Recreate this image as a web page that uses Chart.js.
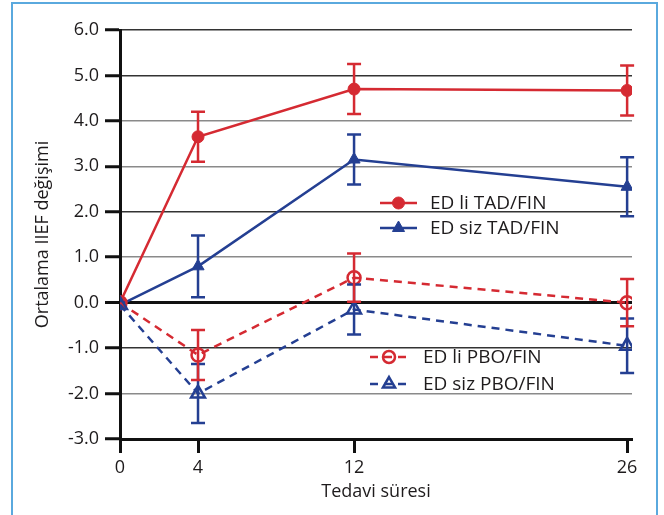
<!DOCTYPE html>
<html>
<head>
<meta charset="utf-8">
<script src="https://cdn.jsdelivr.net/npm/chart.js@4.4.1/dist/chart.umd.min.js"></script>
<style>
  html, body { margin: 0; padding: 0; background: #fff; }
  #wrap { position: relative; width: 664px; height: 515px; overflow: hidden; }
  #frame { position: absolute; left: 11px; top: 2px; width: 647px; height: 530px;
           border: 2px solid #5aa9de; box-sizing: border-box; pointer-events: none; }
  canvas { position: absolute; left: 0; top: 0; }
</style>
</head>
<body>
<div id="wrap">
  <canvas id="c" width="664" height="515"></canvas>
  <div id="frame"></div>
</div>
<script>
// weeks of treatment
const weeks = [0, 4, 12, 26];
const yTicks = [-3, -2, -1, 0, 1, 2, 3, 4, 5, 6];

// mean IIEF change and +/- error
const edLiTad   = [0.00, 3.65, 4.70, 4.67];
const edLiTadErr = [0, 0.55, 0.55, 0.55];
const edSizTad  = [-0.05, 0.80, 3.15, 2.55];
const edSizTadErr = [0, 0.68, 0.55, 0.65];
const edLiPbo   = [0.00, -1.15, 0.55, 0.00];
const edLiPboErr = [0, 0.55, 0.53, 0.52];
const edSizPbo  = [-0.05, -2.00, -0.15, -0.95];
const edSizPboErr = [0, 0.65, 0.55, 0.60];

const RED = '#d52a32';
const BLUE = '#243f92';
const INK = '#1e1b1c';
const FONT = '"Open Sans", "Noto Sans", sans-serif';
const FS = 18;

function pts(vals) { return vals.map((v, i) => ({ x: weeks[i], y: v })); }

// vertical error bars with caps
const errorBars = {
  id: 'errorBars',
  afterDatasetsDraw(chart) {
    const { ctx, scales: { x, y } } = chart;
    chart.data.datasets.forEach(ds => {
      if (!ds.err) return;
      ctx.save();
      ctx.strokeStyle = ds.borderColor;
      ctx.lineWidth = 2.5;
      ctx.setLineDash([]);
      ds.data.forEach((p, i) => {
        const e = ds.err[i];
        if (!e) return;
        const px = x.getPixelForValue(p.x);
        const top = y.getPixelForValue(p.y + e);
        const bot = y.getPixelForValue(p.y - e);
        ctx.beginPath();
        ctx.moveTo(px, top); ctx.lineTo(px, bot);
        ctx.moveTo(px - 7, top); ctx.lineTo(px + 7, top);
        ctx.moveTo(px - 7, bot); ctx.lineTo(px + 7, bot);
        ctx.stroke();
      });
      ctx.restore();
    });
  }
};

// legend boxes placed inside the plot
const innerLegend = {
  id: 'innerLegend',
  afterDraw(chart, args, opts) {
    const { ctx } = chart;
    opts.items.forEach(it => {
      const ds = chart.data.datasets[it.index];
      ctx.save();
      ctx.strokeStyle = ds.borderColor;
      ctx.lineWidth = 2.5;
      ctx.setLineDash(ds.borderDash || []);
      ctx.beginPath();
      ctx.moveTo(it.x, it.y);
      ctx.lineTo(it.x + it.len, it.y);
      ctx.stroke();
      ctx.setLineDash([]);
      ctx.fillStyle = ds.pointBackgroundColor;
      ctx.strokeStyle = ds.borderColor;
      ctx.lineWidth = ds.pointBorderWidth;
      Chart.helpers.drawPoint(ctx, { pointStyle: ds.pointStyle, radius: it.r, rotation: 0, borderWidth: ds.pointBorderWidth },
        it.x + it.len / 2, it.y);
      ctx.fillStyle = INK;
      ctx.font = '19px ' + FONT;
      ctx.textBaseline = 'middle';
      ctx.fillText(ds.label, it.tx, it.y + 1);
      ctx.restore();
    });
  }
};

const gridColor = ctx => {
  const v = ctx.tick && ctx.tick.value;
  if (v === 0 || v === -3) return '#111';
  if (v === 6 || v === 5 || v === 2 || v === -1) return '#333';
  return '#8a8a8a';
};

new Chart(document.getElementById('c'), {
  type: 'line',
  data: {
    datasets: [
      { label: 'ED siz PBO/FIN', data: pts(edSizPbo), err: edSizPboErr, borderColor: BLUE,
        borderDash: [8, 6], borderWidth: 2.5, pointStyle: 'triangle', pointRadius: 8,
        pointBackgroundColor: 'rgba(255,255,255,0)', pointBorderColor: BLUE, pointBorderWidth: 2.5 },
      { label: 'ED li PBO/FIN', data: pts(edLiPbo), err: edLiPboErr, borderColor: RED,
        borderDash: [8, 6], borderWidth: 2.5, pointStyle: 'circle', pointRadius: 6.5,
        pointBackgroundColor: 'rgba(255,255,255,0)', pointBorderColor: RED, pointBorderWidth: 2.5 },
      { label: 'ED siz TAD/FIN', data: pts(edSizTad), err: edSizTadErr, borderColor: BLUE,
        borderWidth: 2.5, pointStyle: 'triangle', pointRadius: 7,
        pointBackgroundColor: BLUE, pointBorderColor: BLUE, pointBorderWidth: 1 },
      { label: 'ED li TAD/FIN', data: pts(edLiTad), err: edLiTadErr, borderColor: RED,
        borderWidth: 2.5, pointStyle: 'circle', pointRadius: 6,
        pointBackgroundColor: RED, pointBorderColor: RED, pointBorderWidth: 1 }
    ]
  },
  options: {
    responsive: false,
    animation: false,
    layout: { padding: { left: 28, right: 32, top: 30, bottom: 9 } },
    plugins: {
      legend: { display: false },
      tooltip: { enabled: false },
      innerLegend: {
        items: [
          { index: 3, x: 380, y: 203, len: 37, r: 6, tx: 430 },
          { index: 2, x: 380, y: 228, len: 37, r: 7, tx: 430 },
          { index: 1, x: 370, y: 357, len: 38, r: 6, tx: 423 },
          { index: 0, x: 370, y: 384, len: 38, r: 7, tx: 423 }
        ]
      }
    },
    scales: {
      x: {
        type: 'linear', min: 0, max: 26.25,
        afterBuildTicks: s => { s.ticks = weeks.map(v => ({ value: v })); },
        afterFit: s => { s.height = 67; },
        grid: { drawOnChartArea: false, tickLength: 14, tickColor: '#111', tickWidth: 3 },
        border: { color: '#111', width: 3 },
        ticks: { color: INK, font: { family: FONT, size: FS }, padding: 4, maxRotation: 0 },
        title: { display: true, text: 'Tedavi süresi', color: INK, font: { family: FONT, size: FS },
                 padding: { top: 0, bottom: 3 } }
      },
      y: {
        min: -3, max: 6,
        afterBuildTicks: s => { s.ticks = yTicks.map(v => ({ value: v })); },
        afterFit: s => { s.width = 92; },
        grid: { color: gridColor, lineWidth: c => (c.tick && c.tick.value === 0) ? 3 : 1.5,
                tickLength: 15, tickColor: '#111', tickWidth: 3 },
        border: { color: '#111', width: 3 },
        ticks: { color: INK, font: { family: FONT, size: FS }, padding: 6,
                 callback: v => v.toFixed(1) },
        title: { display: true, text: 'Ortalama IIEF değişimi', color: INK, font: { family: FONT, size: FS } }
      }
    }
  },
  plugins: [errorBars, innerLegend]
});
</script>
</body>
</html>
